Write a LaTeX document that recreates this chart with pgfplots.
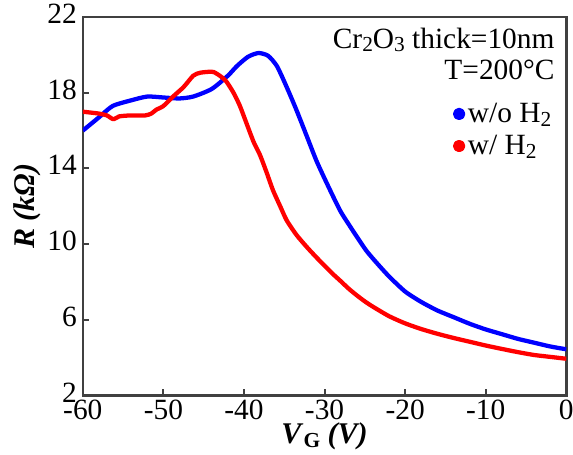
\documentclass[border=0pt]{standalone}
\usepackage{pgfplots}
\pgfplotsset{compat=1.18}
\usepackage{fontspec}
\setmainfont{Liberation Serif}
\definecolor{fr}{HTML}{404040}
\newcommand\sub[1]{\raisebox{-0.25ex}{\fontsize{16}{16}\selectfont #1}}
\begin{document}
\begin{tikzpicture}
\begin{axis}[name=ax,
  scale only axis, width=362pt, height=283.5pt,
  xmin=-60, xmax=0, ymin=2, ymax=22,
  xtick={-60,-50,...,0}, ytick={2,6,...,22},
  xticklabels={-60,-50,-40,-30,-20,-10,0},
  yticklabels={2,6,10,14,18,22},
  xtick pos=bottom, ytick pos=left, tick align=inside,
  major tick length=5pt,
  axis line style={fr, line width=1.8pt},
  every tick/.style={fr, line width=1.5pt},
  ticklabel style={font=\fontsize{22}{24}\selectfont},
  xticklabel style={yshift=0pt},
  yticklabel style={xshift=-1pt, yshift=2.5pt},
  xlabel={\textbf{\textit{V}\sub{G} \textit{(V)}}},
  ylabel={\textbf{\textit{R (kΩ)}}},
  label style={font=\fontsize{22.5}{24}\selectfont},
  xlabel style={yshift=5pt},
  ylabel style={yshift=-2pt},
  legend style={draw=none, fill=none, at={(rel axis cs:0.975,0.78)}, anchor=north east,
    font=\fontsize{22}{24}\selectfont, row sep=4pt, inner sep=0pt,
    legend cell align=left},
  legend image code/.code={\fill (0.15cm,0) circle (3pt);},
]
\addplot[blue, line width=3.2pt, line join=round, smooth, tension=0.4] coordinates {
(-60,16.0) (-58,16.7) (-56.3,17.3) (-54,17.6) (-52,17.8) (-50,17.75) (-48,17.7)
(-46.3,17.8) (-44,18.2) (-42,18.9) (-40.9,19.4) (-39.5,19.9) (-38.2,20.1) (-37,19.95)
(-35.9,19.4) (-34.7,18.3) (-33.5,17.1) (-32.2,15.7) (-31,14.4) (-29.7,13.2) (-28.1,11.8)
(-27,11.05) (-26,10.4) (-24.8,9.65) (-23.5,9.0) (-22,8.3)
(-20,7.5) (-18,6.95) (-16,6.5) (-14,6.15) (-12,5.8) (-10,5.5) (-8,5.25) (-6,5.0)
(-4,4.8) (-2,4.6) (0,4.45)
};
\addlegendentry{w/o H\sub{2}}
\addplot[red, line width=3.2pt, line join=round, smooth, tension=0.4] coordinates {
(-60,17.0) (-58,16.9) (-57,16.8) (-56.2,16.6) (-55.5,16.75) (-54.2,16.8) (-52.3,16.8)
(-51.5,16.9) (-50.9,17.1) (-50,17.3) (-48.8,17.8) (-47.5,18.3) (-46.3,18.9) (-45.5,19.05)
(-44.6,19.1) (-43.8,19.1) (-43,18.9) (-42.2,18.6) (-41.3,18.0) (-40.5,17.3) (-39.7,16.4)
(-38.8,15.4) (-38,14.7) (-37.2,13.8) (-36.4,12.85) (-35.5,12.0) (-34.7,11.26) (-33.5,10.5)
(-32.2,9.85) (-31,9.3) (-30,8.87) (-29,8.44) (-28,8.05) (-27,7.65) (-26,7.3) (-25,6.98)
(-24,6.7) (-22,6.2) (-20,5.82) (-18,5.52) (-16,5.27) (-14,5.05) (-12,4.85) (-10,4.65)
(-8,4.47) (-6,4.3) (-4,4.15) (-2,4.05) (0,3.95)
};
\addlegendentry{w/ H\sub{2}}
\node[anchor=north east, align=right, font=\fontsize{22}{23.5}\selectfont, inner sep=0pt]
  at (rel axis cs:0.976,0.972) {Cr\sub{2}O\sub{3} thick=10nm\\T=200°C};
\end{axis}
\pgfresetboundingbox
\path ([xshift=-62pt,yshift=-44pt]ax.south west) rectangle ([xshift=5pt,yshift=12.75pt]ax.north east);
\end{tikzpicture}
\end{document}
